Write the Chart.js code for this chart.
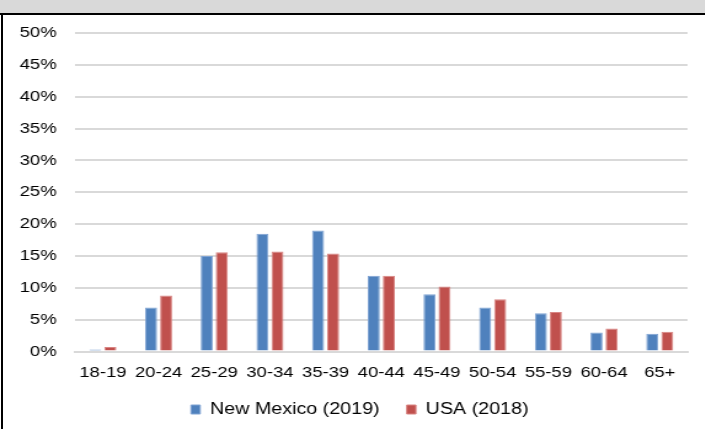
<!DOCTYPE html>
<html>
<head>
<meta charset="utf-8">
<script src="https://cdn.jsdelivr.net/npm/chart.js@4/dist/chart.umd.min.js"></script>
<style>
  html, body { margin: 0; padding: 0; background: #fff; }
  body { width: 705px; height: 429px; position: relative; overflow: hidden; }
  #band { position: absolute; left: 0; top: 0; width: 705px; height: 13px; background: #d9d9d9; border-bottom: 2px solid #000; }
  #leftrule { position: absolute; left: 1px; top: 13px; width: 2px; height: 416px; background: #000; }
  #wrap { position: absolute; left: 0; top: 15px; width: 573px; height: 414px; transform: scaleX(1.23); transform-origin: 0 0; }
</style>
</head>
<body>
<div id="band"></div>
<div id="leftrule"></div>
<div id="wrap"><canvas id="c"></canvas></div>
<script>
// Age groups and share of population (%) in each group
const ageGroups = ['18-19','20-24','25-29','30-34','35-39','40-44','45-49','50-54','55-59','60-64','65+'];
const newMexico2019 = [0.3, 6.9, 15.0, 18.5, 19.0, 11.9, 9.0, 6.9, 6.0, 3.0, 2.8];
const usa2018 = [0.7, 8.8, 15.6, 15.7, 15.4, 11.9, 10.2, 8.2, 6.2, 3.6, 3.1];
const yTicks = [0, 5, 10, 15, 20, 25, 30, 35, 40, 45, 50];

const FONT = '"Liberation Sans", Arial, sans-serif';

// Keeps wide spacing between legend entries while pulling the legend
// closer to the axis labels and nudging it right.
const legendPlacement = {
  id: 'legendPlacement',
  afterInit(chart) {
    const lg = chart.legend;
    const fit = lg.fit;
    lg.fit = function () { fit.call(this); this.height -= 20; };
  },
  afterLayout(chart) {
    const lg = chart.legend;
    lg.top -= 6;
    lg.bottom = chart.height;
    lg.left += 13; lg.right += 13;
  }
};

new Chart(document.getElementById('c'), {
  type: 'bar',
  data: {
    labels: ageGroups,
    datasets: [
      { label: 'New Mexico (2019)', data: newMexico2019, backgroundColor: '#4f81bd', borderColor: '#7fa3d3', borderWidth: 1 },
      { label: 'USA (2018)', data: usa2018, backgroundColor: '#c0504d', borderColor: '#d98583', borderWidth: 1 }
    ]
  },
  plugins: [legendPlacement],
  options: {
    responsive: true,
    maintainAspectRatio: false,
    animation: false,
    devicePixelRatio: 1,
    datasets: { bar: { categoryPercentage: 0.54, barPercentage: 0.8 } },
    layout: { padding: { top: 18, right: 14, left: 0, bottom: 15.5 } },
    scales: {
      x: {
        grid: { display: false },
        border: { display: true, color: '#d9d9d9', width: 2 },
        ticks: { color: '#000', font: { family: FONT, size: 15 }, padding: 4, maxRotation: 0, autoSkip: false }
      },
      y: {
        min: 0, max: 50,
        afterFit: s => { s.width = 61; s.paddingTop = 0; s.paddingBottom = 0; },
        afterBuildTicks: s => { s.ticks = yTicks.map(v => ({ value: v })); },
        grid: { color: '#d9d9d9', lineWidth: 2, drawTicks: false },
        border: { display: false },
        ticks: { color: '#000', font: { family: FONT, size: 15 }, padding: 15, callback: v => v + '%' }
      }
    },
    plugins: {
      legend: {
        position: 'bottom',
        labels: { color: '#000', font: { family: FONT, size: 16 }, boxWidth: 7.5, boxHeight: 9, padding: 22 }
      },
      tooltip: { enabled: false }
    }
  }
});
</script>
</body>
</html>
